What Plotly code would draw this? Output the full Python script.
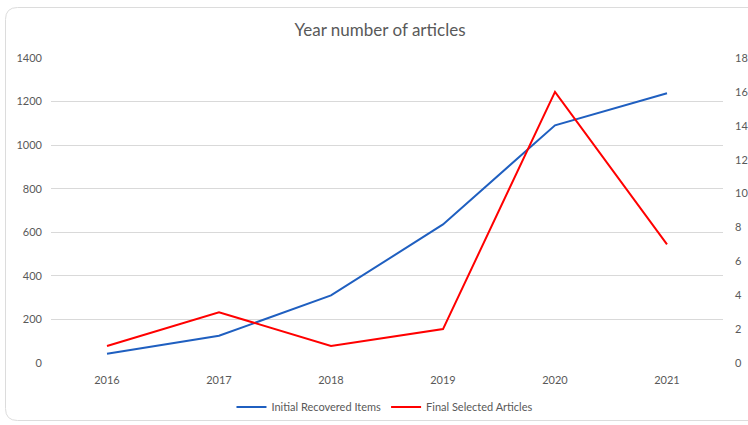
import plotly.graph_objects as go

years = ["2016", "2017", "2018", "2019", "2020", "2021"]
initial_recovered = [42, 125, 310, 636, 1091, 1238]
final_selected = [1, 3, 1, 2, 16, 7]
left_ticks = [0, 200, 400, 600, 800, 1000, 1200, 1400]
right_ticks = [0, 2, 4, 6, 8, 10, 12, 14, 16, 18]

W, H = 748, 425
L, R, T, B = 51, 25, 58, 62
pw, ph = W - L - R, H - T - B

def px(x):
    return (x - L) / pw

def py(y):
    return (H - B - y) / ph

FONT = "Lato"
GRAY = "#595959"

fig = go.Figure()
fig.add_trace(go.Scatter(x=years, y=initial_recovered, mode="lines",
                         name="Initial Recovered Items",
                         line=dict(color="#1f5fc0", width=2)))
fig.add_trace(go.Scatter(x=years, y=final_selected, mode="lines",
                         name="Final Selected Articles", yaxis="y2",
                         line=dict(color="#ff0000", width=2)))

# rounded outer border
x0, x1, y0, y1, r = 5.5, 760, 7.5, 420.5, 12
rx, ry = r / pw, r / ph
path = (f"M {px(x0)+rx},{py(y0)} L {px(x1)-rx},{py(y0)} "
        f"Q {px(x1)},{py(y0)} {px(x1)},{py(y0)-ry} "
        f"L {px(x1)},{py(y1)+ry} Q {px(x1)},{py(y1)} {px(x1)-rx},{py(y1)} "
        f"L {px(x0)+rx},{py(y1)} Q {px(x0)},{py(y1)} {px(x0)},{py(y1)+ry} "
        f"L {px(x0)},{py(y0)-ry} Q {px(x0)},{py(y0)} {px(x0)+rx},{py(y0)} Z")

fig.update_layout(
    width=W, height=H,
    margin=dict(l=L, r=R, t=T, b=B, autoexpand=False),
    paper_bgcolor="white", plot_bgcolor="white",
    font=dict(family=FONT, size=11, color=GRAY),
    title=dict(text="Year number of articles", x=380 / W, xanchor="center",
               y=1 - 30 / H, yanchor="middle",
               font=dict(family=FONT, size=17, color=GRAY)),
    xaxis=dict(type="category", range=[-0.5, 5.5], showgrid=False,
               showline=False, zeroline=False, ticks="", automargin=False,
               ticklabelstandoff=9,
               tickfont=dict(size=11, color=GRAY)),
    yaxis=dict(range=[0, 1400], tickvals=left_ticks, showgrid=True,
               gridcolor="#d9d9d9", gridwidth=1, zeroline=False,
               showline=False, ticks="", ticklabelstandoff=8,
               automargin=False,
               tickfont=dict(size=11, color=GRAY)),
    yaxis2=dict(range=[0, 18], tickvals=right_ticks, overlaying="y",
                side="right", showgrid=False, zeroline=False, showline=False,
                ticks="", ticklabelstandoff=11, automargin=False,
                tickfont=dict(size=11, color=GRAY)),
    showlegend=True,
    legend=dict(orientation="h", x=0.497, xanchor="center",
                y=py(407), yanchor="middle",
                font=dict(size=11, color=GRAY), itemwidth=30,
                bgcolor="rgba(0,0,0,0)"),
    shapes=[dict(type="path", path=path, xref="paper", yref="paper",
                 line=dict(color="#dcdcdc", width=1), layer="below")],
)

fig.write_html("out.html")
